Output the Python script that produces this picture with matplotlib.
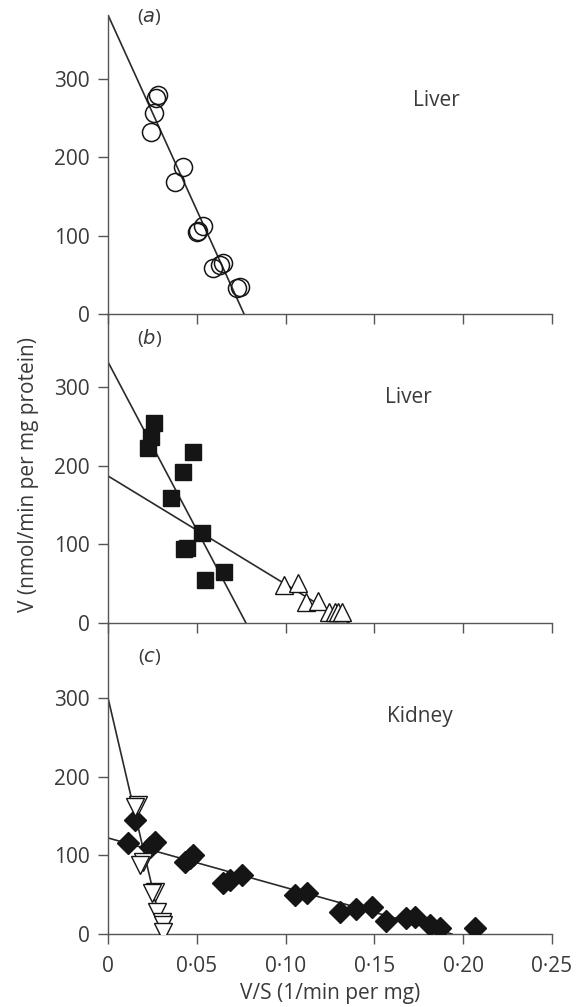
import matplotlib
matplotlib.use("Agg")
import matplotlib.pyplot as plt

plt.rcParams['font.family'] = ['Open Sans', 'DejaVu Sans']

# panel (a) liver, open circles
a_x = [0.0282, 0.0270, 0.0259, 0.0242, 0.0422, 0.0377, 0.0535, 0.0507, 0.0501,
       0.0591, 0.0630, 0.0648, 0.0743, 0.0726]
a_v = [280, 276, 257, 232, 188, 169, 112, 106, 105, 59, 63, 65, 35, 33]
a_line = ([0, 0.0766], [382, 0])

# panel (b) liver, filled squares and open triangles
b_sq_x = [0.0259, 0.0242, 0.0225, 0.0479, 0.0422, 0.0355, 0.0530, 0.0445, 0.0430,
          0.0653, 0.0546]
b_sq_v = [255, 236, 223, 217, 192, 159, 114, 95, 94, 65, 55]
b_tri_x = [0.0990, 0.1070, 0.1115, 0.1180, 0.1244, 0.1280, 0.1295, 0.1317]
b_tri_v = [48, 51, 27, 28, 14, 14, 14, 14]
b_line1 = ([0, 0.0777], [332, 0])
b_line2 = ([0, 0.1357], [187, 0])

# panel (c) kidney, filled diamonds and open inverted triangles
c_dia_x = [0.0152, 0.0113, 0.0265, 0.0236, 0.0479, 0.0434, 0.0460, 0.0648, 0.0687,
           0.0755, 0.1053, 0.1120, 0.1306, 0.1396, 0.1486, 0.1565, 0.1678, 0.1728,
           0.1813, 0.1870, 0.2066]
c_dia_v = [145, 116, 117, 111, 100, 92, 96, 65, 68, 75, 50, 52, 28, 32, 34, 17,
           20, 22, 12, 7, 7]
c_tri_x = [0.0169, 0.0152, 0.0197, 0.0180, 0.0265, 0.0248, 0.0276, 0.0304, 0.0310,
           0.0310]
c_tri_v = [164, 161, 91, 88, 53, 52, 28, 15, 11, 3]
c_line1 = ([0, 0.0310], [300, 0])
c_line2 = ([0, 0.1937], [122, 0])

x_ticks = [0, 0.05, 0.10, 0.15, 0.20, 0.25]
x_labels = ['0', '0·05', '0·10', '0·15', '0·20', '0·25']
y_ticks = [0, 100, 200, 300]

txt = '#3a3a3a'
ink = '#151515'
W, H = 579, 1007
fig = plt.figure(figsize=(W / 100, H / 100), dpi=100)

def make_ax(top_px, bottom_px, ytop):
    ax = fig.add_axes([108 / W, (H - bottom_px) / H, 444 / W, (bottom_px - top_px) / H])
    ax.patch.set_alpha(0)
    ax.set_xlim(0, 0.25)
    ax.set_ylim(0, ytop)
    for s in ['top', 'right']:
        ax.spines[s].set_visible(False)
    for s in ['left', 'bottom']:
        ax.spines[s].set_color('#555555')
        ax.spines[s].set_linewidth(1.0)
    ax.set_xticks(x_ticks)
    ax.set_yticks(y_ticks)
    ax.tick_params(direction='out', length=7, width=1.0, color='#555555',
                   labelsize=15, labelcolor=txt, pad=6)
    ax.tick_params(axis='x', pad=9)
    ax.set_xticklabels([])
    return ax

ax1 = make_ax(15, 314, 382)
ax2 = make_ax(314, 623, 393)
ax3 = make_ax(623, 934, 395)

lk = dict(color='#2a2a2a', lw=1.2, zorder=2)

ax1.plot(*a_line, **lk)
ax1.plot(a_x, a_v, 'o', ms=13, mfc='none', mec=ink, mew=1.1, zorder=3)
ax1.text(0.1847, 273, 'Liver', fontsize=15, color=txt, ha='center', va='center')

ax2.plot(*b_line1, **lk)
ax2.plot(*b_line2, **lk)
ax2.plot(b_sq_x, b_sq_v, 's', ms=11, mfc=ink, mec=ink, zorder=3)
ax2.plot(b_tri_x, b_tri_v, '^', ms=13, mfc='white', mec=ink, mew=1.0, zorder=3)
ax2.text(0.169, 287, 'Liver', fontsize=15, color=txt, ha='center', va='center')

ax3.plot(*c_line1, **lk)
ax3.plot(*c_line2, **lk)
ax3.plot(c_dia_x, c_dia_v, 'D', ms=11.5, mfc=ink, mec=ink, zorder=3)
ax3.plot(c_tri_x, c_tri_v, 'v', ms=13, mfc='white', mec=ink, mew=1.0, zorder=3)
ax3.text(0.1757, 276, 'Kidney', fontsize=15, color=txt, ha='center', va='center')
ax3.set_xticklabels(x_labels)

# panel letters: italic letter in upright parentheses
for ax, yv, letter in [(ax1, 379, 'a'), (ax2, 362, 'b'), (ax3, 352, 'c')]:
    ax.text(0.0235, yv, r'($\mathit{' + letter + r'}$)', fontsize=14, color=txt,
            ha='center', va='center')

fig.text(29 / W, 1 - 475 / H, 'V (nmol/min per mg protein)', rotation=90,
         fontsize=15, color=txt, ha='center', va='center')
fig.text(330 / W, 1 - 993 / H, 'V/S (1/min per mg)', fontsize=15, color=txt,
         ha='center', va='center')

fig.savefig('out.png', dpi=100)
